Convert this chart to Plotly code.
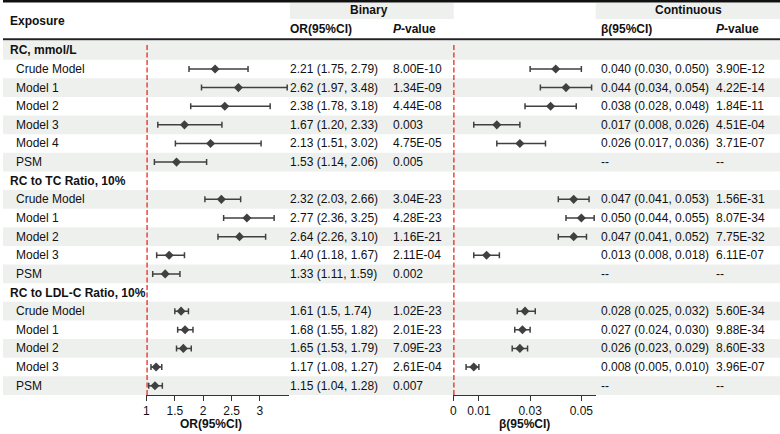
import plotly.graph_objects as go

W, H = 780, 434

row_labels = ["RC, mmol/L", "Crude Model", "Model 1", "Model 2", "Model 3", "Model 4", "PSM",
              "RC to TC Ratio, 10%", "Crude Model", "Model 1", "Model 2", "Model 3", "PSM",
              "RC to LDL-C Ratio, 10%", "Crude Model", "Model 1", "Model 2", "Model 3", "PSM"]
is_group = [True, False, False, False, False, False, False,
            True, False, False, False, False, False,
            True, False, False, False, False, False]

or_est = [None, 2.21, 2.62, 2.38, 1.67, 2.13, 1.53, None, 2.32, 2.77, 2.64, 1.40, 1.33,
          None, 1.61, 1.68, 1.65, 1.17, 1.15]
or_low = [None, 1.75, 1.97, 1.78, 1.20, 1.51, 1.14, None, 2.03, 2.36, 2.26, 1.18, 1.11,
          None, 1.5, 1.55, 1.53, 1.08, 1.04]
or_high = [None, 2.79, 3.48, 3.18, 2.33, 3.02, 2.06, None, 2.66, 3.25, 3.10, 1.67, 1.59,
           None, 1.74, 1.82, 1.79, 1.27, 1.28]
or_text = ["", "2.21 (1.75, 2.79)", "2.62 (1.97, 3.48)", "2.38 (1.78, 3.18)", "1.67 (1.20, 2.33)",
           "2.13 (1.51, 3.02)", "1.53 (1.14, 2.06)", "",
           "2.32 (2.03, 2.66)", "2.77 (2.36, 3.25)", "2.64 (2.26, 3.10)", "1.40 (1.18, 1.67)",
           "1.33 (1.11, 1.59)", "",
           "1.61 (1.5, 1.74)", "1.68 (1.55, 1.82)", "1.65 (1.53, 1.79)", "1.17 (1.08, 1.27)",
           "1.15 (1.04, 1.28)"]
or_p = ["", "8.00E-10", "1.34E-09", "4.44E-08", "0.003", "4.75E-05", "0.005", "",
        "3.04E-23", "4.28E-23", "1.16E-21", "2.11E-04", "0.002", "",
        "1.02E-23", "2.01E-23", "7.09E-23", "2.61E-04", "0.007"]

b_est = [None, 0.040, 0.044, 0.038, 0.017, 0.026, None, None, 0.047, 0.050, 0.047, 0.013, None,
         None, 0.028, 0.027, 0.026, 0.008, None]
b_low = [None, 0.030, 0.034, 0.028, 0.008, 0.017, None, None, 0.041, 0.044, 0.041, 0.008, None,
         None, 0.025, 0.024, 0.023, 0.005, None]
b_high = [None, 0.050, 0.054, 0.048, 0.026, 0.036, None, None, 0.053, 0.055, 0.052, 0.018, None,
          None, 0.032, 0.030, 0.029, 0.010, None]
b_text = ["", "0.040 (0.030, 0.050)", "0.044 (0.034, 0.054)", "0.038 (0.028, 0.048)",
          "0.017 (0.008, 0.026)", "0.026 (0.017, 0.036)", "--", "",
          "0.047 (0.041, 0.053)", "0.050 (0.044, 0.055)", "0.047 (0.041, 0.052)",
          "0.013 (0.008, 0.018)", "--", "",
          "0.028 (0.025, 0.032)", "0.027 (0.024, 0.030)", "0.026 (0.023, 0.029)",
          "0.008 (0.005, 0.010)", "--"]
b_p = ["", "3.90E-12", "4.22E-14", "1.84E-11", "4.51E-04", "3.71E-07", "--", "",
       "1.56E-31", "8.07E-34", "7.75E-32", "6.11E-07", "--", "",
       "5.60E-34", "9.88E-34", "8.60E-33", "3.96E-07", "--"]

or_ticks = [1, 1.5, 2, 2.5, 3]
or_ticktext = ["1", "1.5", "2", "2.5", "3"]
b_ticks = [0, 0.01, 0.03, 0.05]
b_ticktext = ["0", "0.01", "0.03", "0.05"]

FONT = "Liberation Sans, Arial, Helvetica, sans-serif"
TXT = "#111111"
GRAY = "#eef0ee"
MARK = "#404040"
RED = "#e5231b"


def px(x):
    return x / W


def py(y):
    return 1 - y / H


n = len(row_labels)
ROW_TOP, ROW_BOT = 41, 395
DX = -3.5  # annotation inner padding compensation

fig = go.Figure()

# OR forest
idx = [i for i in range(n) if or_est[i] is not None]
fig.add_trace(go.Scatter(
    x=[or_est[i] for i in idx], y=[i for i in idx], mode="markers",
    marker=dict(symbol="diamond", size=7, color=MARK),
    error_x=dict(type="data", symmetric=False,
                 array=[or_high[i] - or_est[i] for i in idx],
                 arrayminus=[or_est[i] - or_low[i] for i in idx],
                 color=MARK, thickness=1.5, width=3),
    xaxis="x", yaxis="y", showlegend=False, hoverinfo="skip"))

# beta forest
idx2 = [i for i in range(n) if b_est[i] is not None]
fig.add_trace(go.Scatter(
    x=[b_est[i] for i in idx2], y=[i for i in idx2], mode="markers",
    marker=dict(symbol="diamond", size=7, color=MARK),
    error_x=dict(type="data", symmetric=False,
                 array=[b_high[i] - b_est[i] for i in idx2],
                 arrayminus=[b_est[i] - b_low[i] for i in idx2],
                 color=MARK, thickness=1.5, width=3),
    xaxis="x2", yaxis="y", showlegend=False, hoverinfo="skip"))

shapes = []
# zebra rows
for i in range(n):
    if i % 2 == 0:
        shapes.append(dict(type="rect", xref="paper", yref="y", x0=0, x1=1,
                           y0=i - 0.5, y1=i + 0.5, fillcolor=GRAY, line=dict(width=0),
                           layer="below"))
# header bands
shapes.append(dict(type="rect", xref="paper", yref="paper", x0=px(288), x1=px(452.5),
                   y0=py(19), y1=py(3), fillcolor=GRAY, line=dict(width=0), layer="below"))
shapes.append(dict(type="rect", xref="paper", yref="paper", x0=px(595), x1=1,
                   y0=py(19), y1=py(3), fillcolor=GRAY, line=dict(width=0), layer="below"))
# top rule and header rule
shapes.append(dict(type="line", xref="paper", yref="paper", x0=0, x1=1, y0=py(1.2), y1=py(1.2),
                   line=dict(color="#111111", width=2.5)))
shapes.append(dict(type="line", xref="paper", yref="paper", x0=0, x1=1, y0=py(39.3), y1=py(39.3),
                   line=dict(color="#222222", width=2)))
# reference lines
shapes.append(dict(type="line", xref="x", yref="paper", x0=1, x1=1, y0=py(ROW_BOT), y1=py(43),
                   line=dict(color=RED, width=2.5, dash="5px,2.5px")))
shapes.append(dict(type="line", xref="x2", yref="paper", x0=0, x1=0, y0=py(ROW_BOT), y1=py(43),
                   line=dict(color=RED, width=2.5, dash="5px,2.5px")))

ann = []


def add_text(text, x, y, yref="paper", xanchor="left", bold=False, size=12):
    if bold:
        text = "<b>" + text + "</b>"
    if xanchor == "left":
        x = x + DX
    ann.append(dict(text=text, x=px(x), y=y, xref="paper", yref=yref, xanchor=xanchor,
                    yanchor="middle", showarrow=False,
                    font=dict(family=FONT, size=size, color=TXT)))


# header texts
add_text("Exposure", 9, py(21), bold=True)
add_text("Binary", 367, py(10.5), xanchor="center", bold=True)
add_text("Continuous", 688, py(10.5), xanchor="center", bold=True)
add_text("OR(95%CI)", 290, py(29.5), bold=True)
add_text("<i>P</i>-value", 393, py(29.5), bold=True)
add_text("β(95%CI)", 602, py(29.5), bold=True)
add_text("<i>P</i>-value", 717, py(29.5), bold=True)

for i in range(n):
    if is_group[i]:
        add_text(row_labels[i], 8.5, i, yref="y", bold=True)
    else:
        add_text(row_labels[i], 15, i, yref="y")
        add_text(or_text[i], 290, i, yref="y")
        add_text(or_p[i], 393, i, yref="y")
        add_text(b_text[i], 602, i, yref="y")
        add_text(b_p[i], 717, i, yref="y")

# axis titles
add_text("OR(95%CI)", 209, py(424), xanchor="center", bold=True)
add_text("β(95%CI)", 523.5, py(424), xanchor="center", bold=True)

axis_common = dict(showgrid=False, zeroline=False, showline=True, linecolor="#333333",
                   linewidth=1, ticks="outside", ticklen=5, tickwidth=1, tickcolor="#333333",
                   tickfont=dict(family=FONT, size=12, color=TXT), anchor="y", fixedrange=True)

fig.update_layout(
    width=W, height=H, margin=dict(l=0, r=0, t=0, b=0),
    paper_bgcolor="white", plot_bgcolor="rgba(0,0,0,0)",
    xaxis=dict(domain=[px(144), px(287)], range=[1, 3.51], tickmode="array",
               tickvals=or_ticks, ticktext=or_ticktext, **axis_common),
    xaxis2=dict(domain=[px(452), px(595)], range=[0, 0.0556], tickmode="array",
                tickvals=b_ticks, ticktext=b_ticktext, **axis_common),
    yaxis=dict(domain=[py(ROW_BOT), py(ROW_TOP)], range=[n - 0.5, -0.5], visible=False,
               fixedrange=True),
    shapes=shapes, annotations=ann, showlegend=False,
)

fig.write_html("out.html", config={"displayModeBar": False},
               post_script="document.body.style.margin='0';document.body.style.overflow='hidden';")
